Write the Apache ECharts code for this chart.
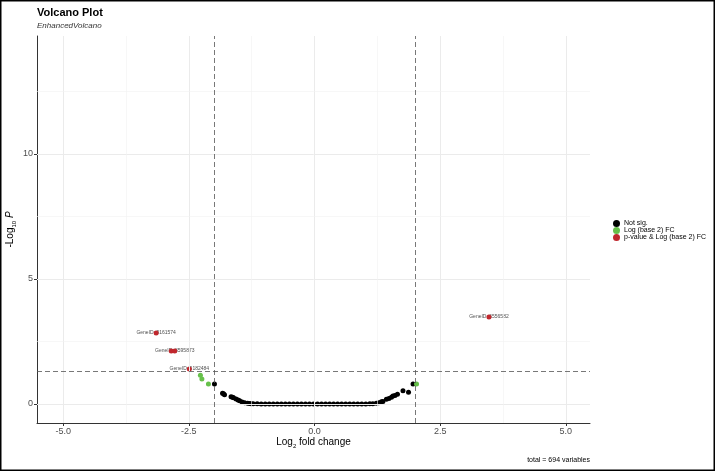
<!DOCTYPE html>
<html>
<head>
<meta charset="utf-8">
<script src="https://cdn.jsdelivr.net/npm/echarts@6/dist/echarts.min.js"></script>
<style>
  html, body { margin: 0; padding: 0; background: #fff; }
  #chart { width: 715px; height: 471px; }
</style>
</head>
<body>
<div id="chart"></div>
<script>
// Not sig. points (log2 fold change, -log10 p)
var notSigX = [-1.99, -1.83, -1.81, -1.79, -1.66, -1.63, -1.61, -1.56, -1.52, -1.49, -1.44, -1.39, -1.33, -1.29, -1.26,
  -1.22, -1.14, -1.06, -0.98, -0.90, -0.82, -0.74, -0.66, -0.58, -0.50, -0.42, -0.34, -0.26, -0.18, -0.10, -0.02,
  0.06, 0.14, 0.22, 0.30, 0.38, 0.46, 0.54, 0.62, 0.70, 0.78, 0.86, 0.94, 1.02, 1.10, 1.16,
  1.23, 1.28, 1.33, 1.36, 1.43, 1.48, 1.53, 1.56, 1.60, 1.65, 1.76, 1.87, 1.96];
var notSigY = [0.80, 0.43, 0.41, 0.37, 0.29, 0.27, 0.25, 0.20, 0.16, 0.13, 0.08, 0.05, 0.03, 0.02, 0.01,
  0.01, 0.01, 0.00, 0.00, 0.00, 0.00, 0.00, 0.00, 0.00, 0.00, 0.00, 0.00, 0.00, 0.00, 0.00, 0.00,
  0.00, 0.00, 0.00, 0.00, 0.00, 0.00, 0.00, 0.00, 0.00, 0.00, 0.00, 0.00, 0.00, 0.01, 0.01,
  0.03, 0.05, 0.09, 0.10, 0.19, 0.22, 0.27, 0.32, 0.34, 0.39, 0.53, 0.47, 0.80];

// Log (base 2) FC only
var fcX = [-2.27, -2.24, -2.11, 2.03];
var fcY = [1.15, 1.00, 0.80, 0.80];

// p-value & Log (base 2) FC
var bothX = [-3.15, -2.85, -2.78, -2.49, 3.47];
var bothY = [2.84, 2.12, 2.12, 1.40, 3.48];
var bothLabels = ['GeneID: 9161574', '', 'GeneID: 8595873', 'GeneID: 9182484', 'GeneID: 6556582'];

var xTicks = [-5, -2.5, 0, 2.5, 5];
var xMinor = [-3.75, -1.25, 1.25, 3.75];
var yTicks = [0, 5, 10];
var yMinor = [2.5, 7.5, 12.5];
var fcCutoff = [-2, 2];
var pCutoff = 1.30103;
var totalText = 'total = 694 variables';

(function() {
  function pairs(xs, ys) {
    return xs.map(function(x, i) { return [x, ys[i]]; });
  }

  var font = 'Liberation Sans, Arial, sans-serif';
  var gridMajor = xTicks.map(function(v) { return { xAxis: v }; })
    .concat(yTicks.map(function(v) { return { yAxis: v }; }));
  var gridMinor = xMinor.map(function(v) { return { xAxis: v }; })
    .concat(yMinor.map(function(v) { return { yAxis: v }; }));
  var cutoffLines = fcCutoff.map(function(v) { return { xAxis: v }; }).concat([{ yAxis: pCutoff }]);

  var labelData = bothX.map(function(x, i) {
    return { value: [x, bothY[i]], label: { formatter: bothLabels[i] } };
  });

  var nameRich = {
    a: { fontSize: 10, color: '#000', fontFamily: font, lineHeight: 14 },
    i: { fontSize: 10, color: '#000', fontFamily: font, fontStyle: 'italic', lineHeight: 14 },
    s: { fontSize: 6, color: '#000', fontFamily: font, lineHeight: 9, verticalAlign: 'bottom' }
  };

  var chart = echarts.init(document.getElementById('chart'), null, { renderer: 'canvas' });
  chart.setOption({
    animation: false,
    textStyle: { fontFamily: font },
    title: {
      text: 'Volcano Plot',
      subtext: 'EnhancedVolcano',
      left: 32,
      top: 2,
      itemGap: 4,
      textStyle: { fontSize: 11, fontWeight: 'bold', color: '#000', fontFamily: font },
      subtextStyle: { fontSize: 8, fontStyle: 'italic', color: '#333', fontFamily: font }
    },
    legend: {
      orient: 'vertical',
      left: 608,
      top: 215,
      itemWidth: 7,
      itemHeight: 7,
      itemGap: 0,
      icon: 'circle',
      textStyle: { fontSize: 7, color: '#000', padding: [0, 0, 0, -1] },
      data: ['Not sig.', 'Log (base 2) FC', 'p-value & Log (base 2) FC']
    },
    grid: { left: 37, right: 125, top: 36, bottom: 48, containLabel: false, outerBoundsMode: 'none' },
    xAxis: {
      type: 'value',
      min: -5.52,
      max: 5.48,
      name: '{a|Log}{s|2}{a| fold change}',
      nameLocation: 'middle',
      nameGap: 12,
      nameMoveOverlap: false,
      nameTextStyle: { rich: nameRich },
      axisLine: { onZero: false, lineStyle: { color: '#333', width: 1 } },
      axisTick: { customValues: xTicks, length: 3, lineStyle: { color: '#333' } },
      axisLabel: {
        customValues: xTicks,
        margin: 4,
        fontSize: 9,
        color: '#4d4d4d',
        formatter: function(v) { return v.toFixed(1); }
      },
      splitLine: { show: false }
    },
    yAxis: {
      type: 'value',
      min: -0.76,
      max: 14.72,
      name: '{a|-Log}{s|10}{a| }{i|P}',
      nameLocation: 'middle',
      nameGap: 20,
      nameMoveOverlap: false,
      nameTextStyle: { rich: nameRich },
      axisLine: { show: true, onZero: false, lineStyle: { color: '#333', width: 1 } },
      axisTick: { show: true, customValues: yTicks, length: 3, lineStyle: { color: '#333' } },
      axisLabel: { customValues: yTicks, margin: 4, fontSize: 9, color: '#4d4d4d' },
      splitLine: { show: false }
    },
    graphic: [
      {
        type: 'rect',
        shape: { x: 0.5, y: 0.5, width: 714, height: 470 },
        style: { fill: 'none', stroke: '#000', lineWidth: 2 },
        silent: true
      },
      {
        type: 'text',
        right: 125,
        bottom: 7,
        style: { text: totalText, fontSize: 7, fill: '#000', fontFamily: font }
      }
    ],
    series: [
      {
        name: 'grid',
        type: 'line',
        data: [],
        z: 0,
        silent: true,
        markLine: {
          silent: true,
          symbol: ['none', 'none'],
          label: { show: false },
          lineStyle: { color: '#ebebeb', width: 1, type: 'solid' },
          data: gridMajor
        }
      },
      {
        name: 'gridMinor',
        type: 'line',
        data: [],
        z: 0,
        silent: true,
        markLine: {
          silent: true,
          symbol: ['none', 'none'],
          label: { show: false },
          lineStyle: { color: '#f2f2f2', width: 0.6, type: 'solid' },
          data: gridMinor
        }
      },
      {
        name: 'cutoffs',
        type: 'line',
        data: [],
        z: 1,
        silent: true,
        markLine: {
          silent: true,
          symbol: ['none', 'none'],
          label: { show: false },
          lineStyle: { color: '#555', width: 0.8, type: [5, 3] },
          data: cutoffLines
        }
      },
      {
        name: 'labels',
        type: 'scatter',
        symbolSize: 0,
        z: 2,
        silent: true,
        data: labelData,
        label: { show: true, position: 'inside', fontSize: 5, color: '#222', fontFamily: font }
      },
      {
        name: 'Not sig.',
        type: 'scatter',
        symbolSize: 5,
        z: 3,
        itemStyle: { color: '#000', opacity: 1 },
        data: pairs(notSigX, notSigY)
      },
      {
        name: 'Log (base 2) FC',
        type: 'scatter',
        symbolSize: 5,
        z: 3,
        itemStyle: { color: '#66c04a', opacity: 1 },
        data: pairs(fcX, fcY)
      },
      {
        name: 'p-value & Log (base 2) FC',
        type: 'scatter',
        symbolSize: 5,
        z: 4,
        itemStyle: { color: '#c0272d', opacity: 1 },
        data: pairs(bothX, bothY)
      }
    ]
  });
  window.addEventListener('resize', function() { chart.resize(); });
})();
</script>
</body>
</html>
